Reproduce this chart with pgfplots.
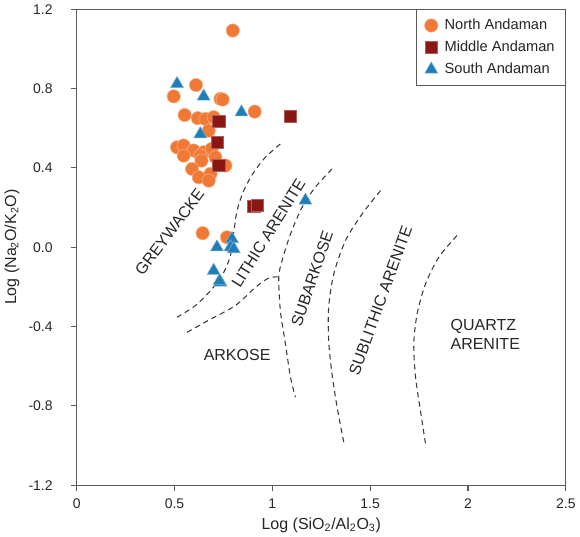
\documentclass[border=0pt]{standalone}
\usepackage{pgfplots}
\pgfplotsset{compat=1.18}
\usepackage{fontspec}
\setmainfont{Liberation Sans}
\definecolor{nord}{HTML}{F07A35}
\definecolor{mid}{HTML}{8B1714}
\definecolor{south}{HTML}{1F7DB8}
\definecolor{axgray}{HTML}{5A5A5A}
\definecolor{curvegray}{HTML}{3A3A3A}

\begin{document}
\begin{tikzpicture}
\begin{axis}[
  scale only axis, width=367pt, height=357pt,
  xmin=0, xmax=2.5, ymin=-1.2, ymax=1.2,
  xtick={0,0.5,1,1.5,2,2.5},
  ytick={-1.2,-0.8,-0.4,0,0.4,0.8,1.2},
  /pgf/number format/assume math mode=true,
  tick align=outside, tick pos=left,
  major tick length=4.5pt,
  axis line style={axgray, line width=0.8pt},
  tick style={axgray, line width=0.8pt},
  tick label style={font=\fontsize{10.5}{12}\selectfont, text=black!85},
  yticklabel style={/pgf/number format/fixed, /pgf/number format/fixed zerofill, /pgf/number format/precision=1, xshift=-10pt},
  xticklabel style={yshift=-2pt},
  label style={font=\fontsize{12}{14}\selectfont, text=black!85},
  xlabel={Log (SiO\textsubscript{2}/Al\textsubscript{2}O\textsubscript{3})},
  ylabel={Log (Na\textsubscript{2}O/K\textsubscript{2}O)},
  legend style={at={(1,1)}, anchor=north east, draw=axgray, line width=0.8pt,
    font=\fontsize{11}{13}\selectfont, row sep=3pt, column sep=3pt, inner xsep=6pt, inner ysep=5pt,
    text=black!85},
  legend cell align=left,
  clip=false,
]
% boundary curves
\addplot[curvegray, dashed, dash pattern=on 4pt off 3pt, line width=0.8pt, smooth, forget plot] coordinates {
 (1.041,0.521) (0.965,0.454) (0.905,0.378) (0.854,0.286) (0.820,0.185) (0.803,0.076)
 (0.786,-0.040) (0.752,-0.126) (0.692,-0.210) (0.607,-0.294) (0.513,-0.353)};
\addplot[curvegray, dashed, dash pattern=on 4pt off 3pt, line width=0.8pt, smooth, forget plot] coordinates {
 (0.564,-0.429) (0.675,-0.368) (0.811,-0.294) (0.914,-0.202) (0.982,-0.155) (1.033,-0.150)};
\addplot[curvegray, dashed, dash pattern=on 4pt off 3pt, line width=0.8pt, smooth, forget plot] coordinates {
 (1.305,0.395) (1.220,0.303) (1.152,0.202) (1.093,0.067) (1.050,-0.067) (1.033,-0.151)
 (1.041,-0.319) (1.067,-0.488) (1.093,-0.656) (1.118,-0.756)};
\addplot[curvegray, dashed, dash pattern=on 4pt off 3pt, line width=0.8pt, smooth, forget plot] coordinates {
 (1.553,0.286) (1.459,0.168) (1.374,0.034) (1.314,-0.135) (1.288,-0.303) (1.288,-0.471)
 (1.305,-0.639) (1.331,-0.807) (1.365,-0.983)};
\addplot[curvegray, dashed, dash pattern=on 4pt off 3pt, line width=0.8pt, smooth, forget plot] coordinates {
 (1.944,0.059) (1.851,-0.050) (1.783,-0.185) (1.740,-0.336) (1.723,-0.488) (1.732,-0.656)
 (1.757,-0.824) (1.783,-0.992)};

% North Andaman
\addplot[only marks, mark=*, mark size=5pt, mark options={fill=nord, draw=nord!60!white, line width=0.4pt}] coordinates {
 (0.798,1.093) (0.610,0.818) (0.496,0.761) (0.735,0.748) (0.746,0.745) (0.910,0.684)
 (0.552,0.667) (0.619,0.651) (0.658,0.647) (0.700,0.656) (0.675,0.588)
 (0.513,0.504) (0.547,0.513) (0.598,0.488) (0.649,0.479) (0.690,0.496)
 (0.547,0.462) (0.632,0.462) (0.638,0.437) (0.709,0.454) (0.760,0.412)
 (0.590,0.395) (0.624,0.353) (0.684,0.370) (0.675,0.336) (0.644,0.071) (0.768,0.050)};
\addlegendentry{North Andaman}
% Middle Andaman
\addplot[only marks, mark=square*, mark size=4.6pt, mark options={fill=mid, draw=mid!70!white, line width=0.4pt}] coordinates {
 (1.093,0.659) (0.726,0.634) (0.717,0.530) (0.726,0.412) (0.905,0.207) (0.922,0.210)};
\addlegendentry{Middle Andaman}
% South Andaman
\addplot[only marks, mark=triangle*, mark size=5.6pt, mark options={fill=south, draw=south!60!white, line width=0.4pt}] coordinates {
 (0.513,0.824) (0.649,0.761) (0.842,0.681) (0.632,0.571) (1.169,0.236)
 (0.794,0.042) (0.717,0.000) (0.786,0.000) (0.803,-0.009) (0.700,-0.118) (0.735,-0.177) (0.730,-0.170)};
\addlegendentry{South Andaman}

% region labels
\node[font=\fontsize{12}{14}\selectfont, text=black!85, rotate=53] at (axis cs:0.475,0.076) {GREYWACKE};
\node[font=\fontsize{12}{14}\selectfont, text=black!85, rotate=58] at (axis cs:0.980,0.071) {LITHIC ARENITE};
\node[font=\fontsize{12}{14}\selectfont, text=black!85, rotate=71] at (axis cs:1.203,-0.160) {SUBARKOSE};
\node[font=\fontsize{12}{14}\selectfont, text=black!85, rotate=70] at (axis cs:1.553,-0.269) {SUBLITHIC ARENITE};
\node[font=\fontsize{12}{14}\selectfont, text=black!85] at (axis cs:0.820,-0.541) {ARKOSE};
\node[font=\fontsize{12}{14}\selectfont, text=black!85, align=left, anchor=west] at (axis cs:1.887,-0.439) {QUARTZ\\ARENITE};
\end{axis}
\end{tikzpicture}
\end{document}
